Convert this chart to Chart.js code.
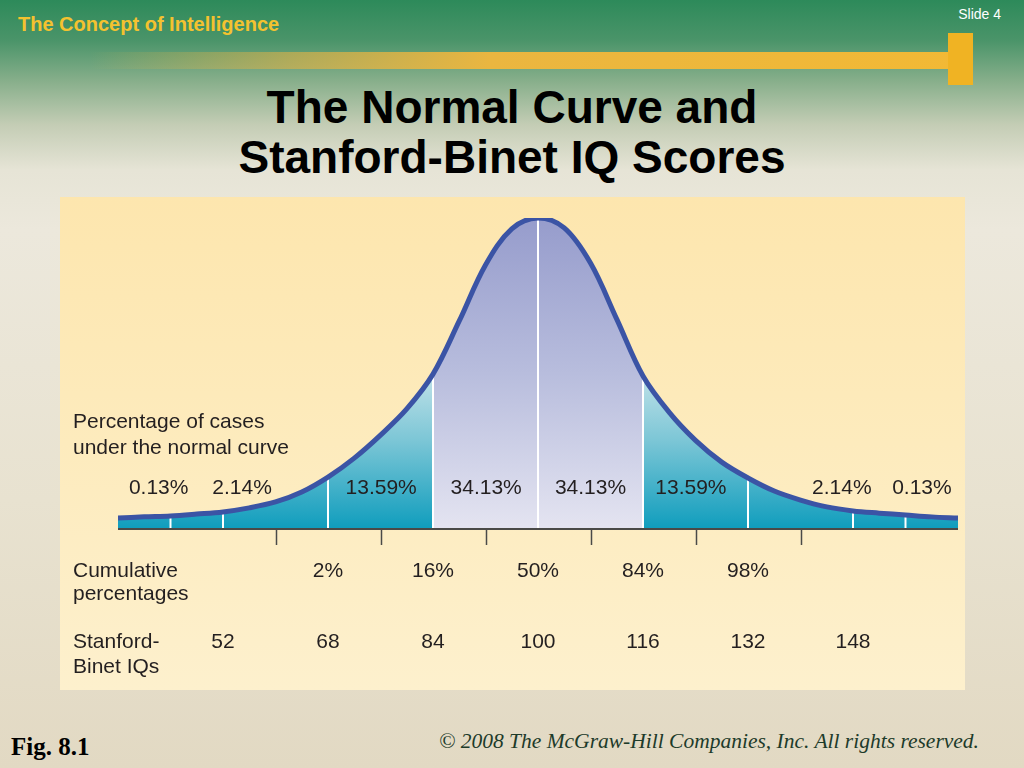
<!DOCTYPE html>
<html>
<head>
<meta charset="utf-8">
<script src="https://cdn.jsdelivr.net/npm/chart.js@4"></script>
<style>
  html, body { margin: 0; padding: 0; }
  body {
    width: 1024px; height: 768px; position: relative; overflow: hidden;
    font-family: "Liberation Sans", Arial, sans-serif;
    background: linear-gradient(to bottom, #2d8a5a 0px, #4a9469 40px, #86ae8a 80px, #c4cdb5 125px, #e6e4d6 170px, #ece8dc 230px, #e8e2d0 500px, #e2d9c3 768px);
  }
  .topic { position: absolute; left: 18px; top: 13px; font-size: 20px; font-weight: bold; color: #f4c22f; }
  .slideno { position: absolute; right: 23px; top: 6px; font-size: 14px; color: #fff; }
  .hbar { position: absolute; left: 90px; top: 52px; width: 868px; height: 17px;
    background: linear-gradient(to right, rgba(240,183,48,0) 0px, rgba(224,178,70,0.6) 200px, #eab640 400px, #f2b935 868px); }
  .vbar { position: absolute; left: 948px; top: 33px; width: 25px; height: 52px; background: #f0b323; }
  h1 { position: absolute; left: 0; width: 1024px; top: 82px; margin: 0; text-align: center;
    font-size: 46px; line-height: 50px; font-weight: bold; color: #000; }
  .panel { position: absolute; left: 60px; top: 197px; width: 905px; height: 493px;
    background: linear-gradient(to bottom, #fde6ae 0%, #fdebbd 50%, #fdf0cd 100%); }
  .fig { position: absolute; left: 11px; top: 733px; font-family: "Liberation Serif", serif; font-weight: bold; font-size: 25px; color: #000; }
  .copy { position: absolute; right: 45px; top: 729px; font-family: "Liberation Serif", serif; font-style: italic; font-size: 21.5px; color: #1d3b2a; }
</style>
</head>
<body>
<div class="topic">The Concept of Intelligence</div>
<div class="slideno">Slide 4</div>
<div class="hbar"></div>
<div class="vbar"></div>
<h1>The Normal Curve and<br>Stanford-Binet IQ Scores</h1>
<div class="panel"><canvas id="chart" width="905" height="493"></canvas></div>
<div class="fig">Fig. 8.1</div>
<div class="copy">© 2008 The McGraw-Hill Companies, Inc. All rights reserved.</div>

<script>
// curve: x in IQ points, height as % of the peak
var iqValues = [36, 40, 44, 48, 52, 56, 60, 64, 68, 72, 76, 80, 84, 88, 92, 96, 100,
                104, 108, 112, 116, 120, 124, 128, 132, 136, 140, 144, 148, 152, 156, 160, 164];
var curveHeights = [3.5, 3.9, 4.2, 4.8, 5.5, 6.8, 8.7, 11.9, 16.7, 22.8, 30.2, 38.6, 49.8, 66.9, 84.9, 96.5, 100,
                    96.8, 85.5, 67.5, 49.2, 37.5, 28.5, 21.5, 16.4, 12.2, 9.3, 7.1, 5.8, 5.1, 4.5, 3.9, 3.5];

var dividerIQs = [44, 52, 68, 84, 100, 116, 132, 148, 156];
var tickIQs = [60, 76, 92, 108, 124, 140];

var caseLabels = ["0.13%", "2.14%", "13.59%", "34.13%", "34.13%", "13.59%", "2.14%", "0.13%"];
var caseLabelIQs = [42.2, 54.9, 76.1, 92.1, 108, 123.3, 146.3, 158.5];

var cumulativeLabels = ["2%", "16%", "50%", "84%", "98%"];
var cumulativeIQs = [68, 84, 100, 116, 132];

var scoreLabels = [52, 68, 84, 100, 116, 132, 148];

var centerFrom = 84, centerTo = 116;

var gradients = {};

function getGradients(chart) {
    var area = chart.chartArea;
    var key = area.top + "_" + area.bottom;
    if (gradients.key !== key) {
        var ctx = chart.ctx;
        var lav = ctx.createLinearGradient(0, area.top, 0, area.bottom);
        lav.addColorStop(0, "#969ccc");
        lav.addColorStop(0.5, "#b8bddd");
        lav.addColorStop(1, "#e4e4f1");
        var teal = ctx.createLinearGradient(0, area.top + 150, 0, area.bottom);
        teal.addColorStop(0, "#c6e4ea");
        teal.addColorStop(0.45, "#7cc6d6");
        teal.addColorStop(1, "#0f9dbd");
        gradients = { key: key, lav: lav, teal: teal };
    }
    return gradients;
}

function pointsOf(arrX, arrY) {
    return arrX.map(function (x, i) { return { x: x, y: arrY[i] }; });
}

var slidePlugin = {
    id: "slideExtras",
    afterDatasetDraw: function (chart, args) {
        // white dividers between the areas, under the curve line
        if (args.index !== 1) {
            return;
        }
        var ctx = chart.ctx;
        var xs = chart.scales.x, ys = chart.scales.y;
        var meta = chart.getDatasetMeta(1);
        ctx.save();
        ctx.strokeStyle = "#ffffff";
        ctx.lineWidth = 2;
        dividerIQs.forEach(function (iq) {
            var idx = iqValues.indexOf(iq);
            var pt = meta.data[idx];
            ctx.beginPath();
            ctx.moveTo(xs.getPixelForValue(iq), ys.getPixelForValue(0));
            ctx.lineTo(xs.getPixelForValue(iq), pt.y);
            ctx.stroke();
        });
        ctx.restore();
    },
    afterDraw: function (chart) {
        var ctx = chart.ctx;
        var xs = chart.scales.x, ys = chart.scales.y;
        var base = ys.getPixelForValue(0);
        var left = 13;

        ctx.save();
        // base line and ticks
        ctx.strokeStyle = "#4a4a48";
        ctx.lineWidth = 2;
        ctx.beginPath();
        ctx.moveTo(xs.getPixelForValue(iqValues[0]), base);
        ctx.lineTo(xs.getPixelForValue(iqValues[iqValues.length - 1]), base);
        ctx.stroke();
        ctx.lineWidth = 1.5;
        tickIQs.forEach(function (iq) {
            var x = Math.round(xs.getPixelForValue(iq)) + 0.5;
            ctx.beginPath();
            ctx.moveTo(x, base);
            ctx.lineTo(x, base + 16);
            ctx.stroke();
        });

        ctx.fillStyle = "#231f20";
        ctx.font = '21px "Liberation Sans", Arial, sans-serif';
        ctx.textAlign = "left";
        ctx.textBaseline = "alphabetic";
        ctx.fillText("Percentage of cases", left, base - 101);
        ctx.fillText("under the normal curve", left, base - 75);
        ctx.fillText("Cumulative", left, base + 48);
        ctx.fillText("percentages", left, base + 71);
        ctx.fillText("Stanford-", left, base + 119);
        ctx.fillText("Binet IQs", left, base + 144);

        ctx.textAlign = "center";
        caseLabels.forEach(function (t, i) {
            ctx.fillText(t, xs.getPixelForValue(caseLabelIQs[i]), base - 35);
        });
        cumulativeLabels.forEach(function (t, i) {
            ctx.fillText(t, xs.getPixelForValue(cumulativeIQs[i]), base + 48);
        });
        scoreLabels.forEach(function (v) {
            ctx.fillText(String(v), xs.getPixelForValue(v), base + 119);
        });
        ctx.restore();
    }
};

var config = {
    type: "line",
    data: {
        datasets: [
            {
                // the curve line
                data: pointsOf(iqValues, curveHeights),
                borderColor: "#3b54a5",
                borderWidth: 5,
                borderCapStyle: "butt",
                fill: false,
                pointRadius: 0,
                order: 0
            },
            {
                // the filled areas under the curve
                data: pointsOf(iqValues, curveHeights),
                borderWidth: 0,
                borderColor: "rgba(0,0,0,0)",
                fill: "origin",
                backgroundColor: function (c) {
                    if (!c.chart.chartArea) {
                        return "#7cc6d6";
                    }
                    return getGradients(c.chart).teal;
                },
                segment: {
                    backgroundColor: function (c) {
                        var g = getGradients(c.chart);
                        if (c.p0.parsed.x >= centerFrom && c.p1.parsed.x <= centerTo) {
                            return g.lav;
                        }
                        return g.teal;
                    }
                },
                pointRadius: 0,
                order: 1
            }
        ]
    },
    plugins: [slidePlugin],
    options: {
        responsive: false,
        animation: false,
        events: [],
        layout: { padding: { left: 58, right: 7, top: 21, bottom: 161 } },
        scales: {
            x: { type: "linear", min: 36, max: 164, display: false },
            y: { min: 0, max: 100, display: false }
        },
        plugins: {
            legend: { display: false },
            tooltip: { enabled: false },
            filler: { propagate: false }
        },
        elements: { line: { tension: 0.35 } }
    }
};

new Chart(document.getElementById("chart"), config);
</script>
</body>
</html>
